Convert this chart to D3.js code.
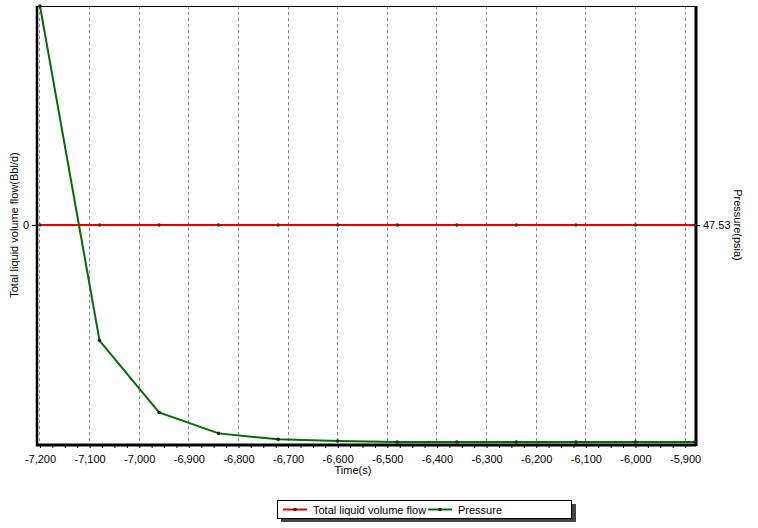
<!DOCTYPE html>
<html><head><meta charset="utf-8">
<script src="https://cdn.jsdelivr.net/npm/d3@7"></script>
<style>body{margin:0;background:#fff}svg{display:block;font-family:"Liberation Sans",Arial,sans-serif}</style>
</head><body><svg id="c" width="758" height="528"></svg>
<script>
const times = [-7200,-7080,-6960,-6840,-6720,-6600,-6480,-6360,-6240,-6120,-6000,-5880];
const flow = [0,0,0,0,0,0,0,0,0,0,0,0];
const pressure = [80.56,30.1,19.25,16.1,15.2,14.95,14.8,14.8,14.8,14.8,14.8,14.8];
const xTicks = [-7200,-7100,-7000,-6900,-6800,-6700,-6600,-6500,-6400,-6300,-6200,-6100,-6000,-5900];
const leftTicks = [0];
const rightTicks = [47.53];
const seriesNames = ["Total liquid volume flow","Pressure"];
const colors = ["#e00000","#006e00"];

const svg = d3.select("#c");
const L=37,R=695,T=6,B=444;
const x = d3.scaleLinear().domain([-7206,-5880]).range([L,R]);
const yL = d3.scaleLinear().domain([-1,1]).range([B,T]);
const yR = d3.scaleLinear().domain([14.5,80.56]).range([B,T]);
const fmt = d3.formatLocale({decimal:".",thousands:",",grouping:[3],currency:["",""],minus:"-"});

// grid
svg.append("g").selectAll("line").data(xTicks).join("line")
  .attr("x1",d=>x(d)).attr("x2",d=>x(d)).attr("y1",T).attr("y2",B)
  .attr("stroke","#8a8a8a").attr("stroke-dasharray","3,3").attr("shape-rendering","crispEdges");

// top border
svg.append("line").attr("x1",L).attr("x2",R).attr("y1",T+0.5).attr("y2",T+0.5).attr("stroke","#000");

// x axis
const xAxis = d3.axisBottom(x).tickValues(xTicks).tickFormat(fmt.format(",")).tickSize(4);
const gx = svg.append("g").attr("transform",`translate(0,${B})`).call(xAxis);
gx.select(".domain").remove();
gx.selectAll("text").attr("font-size",11).attr("fill","#000").attr("dy","1.1em").attr("font-family","Liberation Sans, Arial, sans-serif");
const minor = d3.range(-7200,-5880,25).filter(d=>d%100!==0);
svg.append("g").selectAll("line").data(minor).join("line")
  .attr("x1",d=>x(d)+0.5).attr("x2",d=>x(d)+0.5).attr("y1",B).attr("y2",B+4).attr("stroke","#000");
svg.append("line").attr("x1",L-1).attr("x2",R+1).attr("y1",B+1).attr("y2",B+1).attr("stroke","#000").attr("stroke-width",3);

// left axis
const gl = svg.append("g").attr("transform",`translate(${L},0)`).call(d3.axisLeft(yL).tickValues(leftTicks).tickFormat(fmt.format("d")).tickSize(5));
gl.select(".domain").remove();
gl.selectAll("text").attr("font-size",11).attr("fill","#000").attr("font-family","Liberation Sans, Arial, sans-serif");
svg.append("line").attr("x1",L).attr("x2",L).attr("y1",T).attr("y2",B+2).attr("stroke","#000").attr("stroke-width",2.5);

// right axis
const gr = svg.append("g").attr("transform",`translate(${R},0)`).call(d3.axisRight(yR).tickValues(rightTicks).tickFormat(fmt.format(".2f")).tickSize(5));
gr.select(".domain").remove();
gr.selectAll("text").attr("font-size",11).attr("fill","#000").attr("font-family","Liberation Sans, Arial, sans-serif");
svg.append("line").attr("x1",R+1).attr("x2",R+1).attr("y1",T).attr("y2",B+2).attr("stroke","#000").attr("stroke-width",3);

// axis labels
svg.append("text").attr("transform",`translate(18,${(T+B)/2}) rotate(-90)`).attr("text-anchor","middle")
  .attr("font-size",11).text("Total liquid volume flow(Bbl/d)");
svg.append("text").attr("transform",`translate(734,${(T+B)/2}) rotate(90)`).attr("text-anchor","middle")
  .attr("font-size",11).text("Pressure(psia)");
svg.append("text").attr("x",353).attr("y",474).attr("text-anchor","middle").attr("font-size",11).text("Time(s)");

// series
const lineFlow = d3.line().x((d,i)=>x(times[i])).y(d=>yL(d));
const linePres = d3.line().x((d,i)=>x(times[i])).y(d=>yR(d));
svg.append("path").datum(flow).attr("d",lineFlow).attr("fill","none").attr("stroke",colors[0]).attr("stroke-width",2);
svg.append("path").datum(pressure).attr("d",linePres).attr("fill","none").attr("stroke",colors[1]).attr("stroke-width",2);
svg.append("g").selectAll("circle").data(flow).join("circle")
  .attr("cx",(d,i)=>x(times[i])).attr("cy",d=>yL(d)).attr("r",1.8).attr("fill","#333");
svg.append("g").selectAll("circle").data(pressure).join("circle")
  .attr("cx",(d,i)=>x(times[i])).attr("cy",d=>yR(d)).attr("r",1.8).attr("fill","#222");

// legend
const lg = svg.append("g");
lg.append("rect").attr("x",281).attr("y",504).attr("width",295).attr("height",18).attr("fill","#444");
lg.append("rect").attr("x",277.5).attr("y",500.5).attr("width",294).attr("height",18).attr("fill","#fff").attr("stroke","#000");
const items = [{x:283,tx:313},{x:428,tx:458}];
items.forEach((it,i)=>{
  lg.append("line").attr("x1",it.x).attr("x2",it.x+24).attr("y1",509.5).attr("y2",509.5).attr("stroke",colors[i]).attr("stroke-width",2);
  lg.append("circle").attr("cx",it.x+12).attr("cy",509.5).attr("r",1.8).attr("fill","#222");
  lg.append("text").attr("x",it.tx).attr("y",513.5).attr("font-size",11).text(seriesNames[i]);
});
</script></body></html>
